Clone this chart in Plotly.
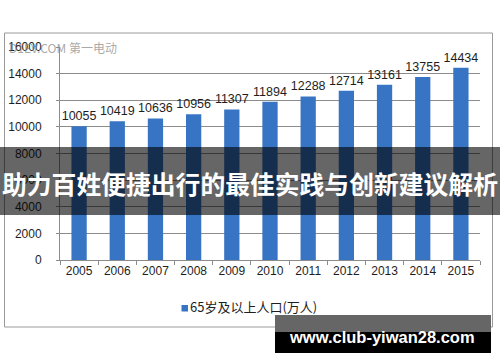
import plotly.graph_objects as go

years = ["2005", "2006", "2007", "2008", "2009", "2010", "2011", "2012", "2013", "2014", "2015"]
population = [10055, 10419, 10636, 10956, 11307, 11894, 12288, 12714, 13161, 13755, 14434]
series_name = "65岁及以上人口(万人)"
y_ticks = [0, 2000, 4000, 6000, 8000, 10000, 12000, 14000, 16000]
y_tick_labels = ["0", "2000", "4000", "6000", "8000", "10000", "12000", "14000", "16000"]
banner_text = "助力百姓便捷出行的最佳实践与创新建议解析"
site_text = "www.club-yiwan28.com"
corner_mark = "D1EV.COM 第一电动"

W, H = 500, 362
L, R, T, B = 60, 480, 47, 260

def px(x):
    return (x - L) / (R - L)

def py(y):
    return (B - y) / (B - T)

BAR = "#3874c4"
GRID = "#8c8c8c"
TXT = "#1e1e1e"
FONT = "Liberation Sans"

fig = go.Figure()
fig.add_trace(go.Bar(
    x=years, y=population, marker=dict(color=BAR, line=dict(width=0)),
    text=[str(v) for v in population], textposition="outside", constraintext="none",
    textfont=dict(family=FONT, size=12.5, color=TXT),
    cliponaxis=False, showlegend=False, name=series_name,
))

shapes = [
    dict(type="rect", xref="paper", yref="paper", x0=px(4.5), x1=px(492.5), y0=py(327), y1=py(33),
         line=dict(color="#9a9a9a", width=1), fillcolor="rgba(0,0,0,0)", layer="below"),
    # legend swatch
    dict(type="rect", xref="paper", yref="paper", x0=px(181.5), x1=px(188), y0=py(311.5), y1=py(305),
         line=dict(width=0), fillcolor=BAR, layer="above"),
    dict(type="rect", xref="paper", yref="paper", x0=px(-2), x1=px(502), y0=py(215), y1=py(147),
         line=dict(width=0), fillcolor="rgba(0,0,0,0.6)", layer="above"),
    dict(type="rect", xref="paper", yref="paper", x0=px(275), x1=px(491), y0=py(332), y1=py(315),
         line=dict(width=0), fillcolor="#666666", layer="above"),
    dict(type="rect", xref="paper", yref="paper", x0=px(275), x1=px(491), y0=py(353), y1=py(332),
         line=dict(width=0), fillcolor="#000000", layer="above"),
]

annotations = [
    dict(text=series_name, xref="paper", yref="paper", x=px(188), y=py(306.5),
         xanchor="left", yanchor="middle", showarrow=False,
         font=dict(family="Noto Sans CJK SC", size=13, color=TXT)),
    dict(text=banner_text, xref="paper", yref="paper", x=px(250), y=py(183),
         xanchor="center", yanchor="middle", showarrow=False,
         font=dict(family="Noto Sans CJK SC", size=24.8, color="white", weight="bold")),
    dict(text=site_text, xref="paper", yref="paper", x=px(382), y=py(337),
         xanchor="center", yanchor="middle", showarrow=False,
         font=dict(family="Liberation Sans", size=16.5, color="white", weight="bold")),
    dict(text=corner_mark, xref="paper", yref="paper", x=px(119), y=py(47),
         xanchor="right", yanchor="middle", showarrow=False,
         font=dict(family="Noto Sans CJK SC", size=12, color="rgba(130,130,130,0.7)")),
]

fig.update_layout(
    width=W, height=H,
    margin=dict(l=L, r=W - R, t=T, b=H - B, pad=0, autoexpand=False),
    paper_bgcolor="white", plot_bgcolor="white",
    bargap=0.6,
    showlegend=False,
    shapes=shapes, annotations=annotations,
    xaxis=dict(showline=True, linecolor=GRID, linewidth=1, ticks="outside", tickson="boundaries",
               ticklen=4, tickcolor=GRID, showgrid=False, automargin=False,
               tickfont=dict(family=FONT, size=12, color=TXT), fixedrange=True),
    yaxis=dict(range=[0, 16000], tickvals=y_ticks, ticktext=y_tick_labels, showline=True,
               linecolor=GRID, linewidth=1, automargin=False,
               ticks="outside", ticklen=3, tickcolor=GRID, showgrid=True, gridcolor=GRID, gridwidth=1,
               zeroline=False, ticklabelstandoff=12,
               tickfont=dict(family=FONT, size=12, color=TXT), fixedrange=True),
)

fig.write_html("out.html", config={"displayModeBar": False},
               post_script="document.body.style.margin='0';")
